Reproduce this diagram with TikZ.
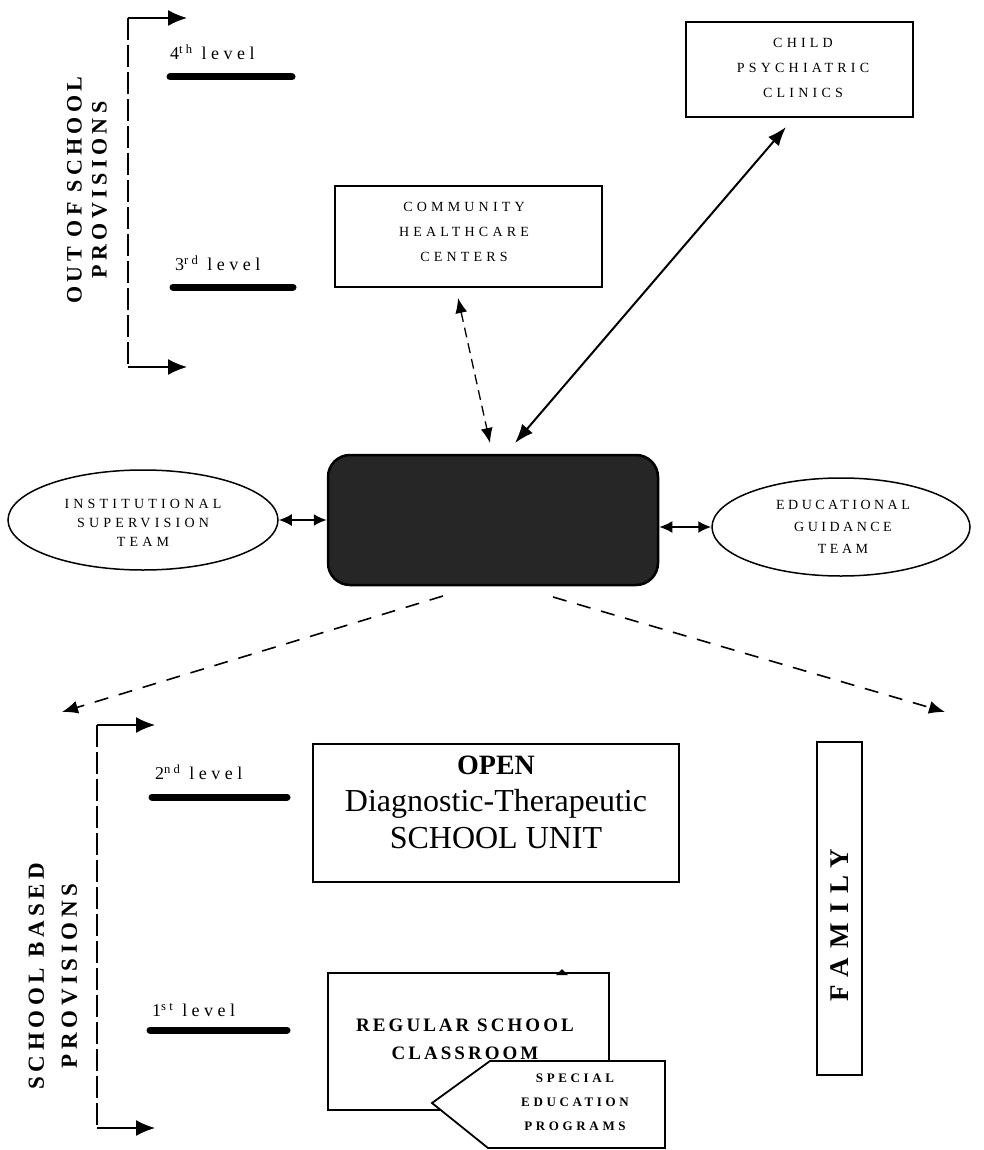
\documentclass[tikz,border=0pt]{standalone}
\usepackage{fontspec}
\setmainfont{Liberation Serif}
\usetikzlibrary{arrows.meta,shapes.geometric}
\tikzset{
  box/.style={draw, line width=1.5pt, inner sep=0pt},
  lbl/.style={align=center, inner sep=0pt, font=\fontsize{14}{25}\selectfont\addfontfeature{LetterSpace=30}},
  elbl/.style={align=center, inner sep=0pt, font=\fontsize{14}{19}\selectfont\addfontfeature{LetterSpace=30}},
  vtitle/.style={rotate=90, align=center, inner sep=0pt, font=\bfseries\fontsize{22}{25}\selectfont\addfontfeature{LetterSpace=20}},
  lvl/.style={anchor=west, inner sep=0pt, font=\fontsize{18}{20}\selectfont\addfontfeature{LetterSpace=25}},
  bar/.style={line width=7pt, line cap=round},
  brk/.style={line width=1.3pt, dash pattern=on 22pt off 5pt},
  tip/.style={-{Latex[length=19pt,width=16pt]}, line width=1.6pt},
  dbl/.style={{Latex[length=13pt,width=12pt]}-{Latex[length=13pt,width=12pt]}, line width=2pt},
  dashtip/.style={dash pattern=on 14pt off 11pt, line width=1.6pt, -{Latex[length=16pt,width=13pt]}},
}
\begin{document}
\begin{tikzpicture}[x=1pt,y=-1pt]
\useasboundingbox (0,0) rectangle (984,1150);

% ---------- OUT OF SCHOOL bracket ----------
\coordinate (b1t) at (128,18);  \coordinate (b1ta) at (187,18);
\coordinate (b1b) at (128,367); \coordinate (b1ba) at (187,367);
\draw[brk] (b1t) -- (b1b);
\draw[tip] (b1t) -- (b1ta);
\draw[tip] (b1b) -- (b1ba);
\node[vtitle] (oos) at (87,190) {OUT OF SCHOOL\\PROVISIONS};

\node[lvl] (l4) at (170,52) {4\textsuperscript{th} level};
\draw[bar] (170,77) -- (292,77);
\node[lvl] (l3) at (175,263) {3\textsuperscript{rd} level};
\draw[bar] (173,287) -- (293,287);

% ---------- top boxes ----------
\node[box, minimum width=227pt, minimum height=95pt] (clin) at (799.5,69.5) {};
\node[lbl] (clint) at (803,68) {CHILD\\PSYCHIATRIC\\CLINICS};
\node[box, minimum width=267pt, minimum height=101pt] (comm) at (468.5,236.5) {};
\node[lbl] (commt) at (464,232) {COMMUNITY\\HEALTHCARE\\CENTERS};

% ---------- centre ----------
\node[draw, line width=2.5pt, rounded corners=22pt, fill=black!85,
      minimum width=330pt, minimum height=130pt] (cbox) at (493,520) {};

\node[draw, line width=1.5pt, ellipse, inner sep=0pt,
      minimum width=270pt, minimum height=100pt] (lell) at (143,520) {};
\node[elbl] (lellt) at (143,523) {INSTITUTIONAL\\SUPERVISION\\TEAM};
\node[draw, line width=1.5pt, ellipse, inner sep=0pt,
      minimum width=258pt, minimum height=98pt] (rell) at (841,527) {};
\node[elbl, font=\fontsize{14}{22}\selectfont\addfontfeature{LetterSpace=25}] (rellt) at (843,527) {EDUCATIONAL\\GUIDANCE\\TEAM};

\draw[dbl] (lell.east) -- (cbox.west);
\draw[dbl] (cbox.east |- rell.west) -- (rell.west);

\coordinate (ca) at (458,298); \coordinate (cb) at (490,443);
\draw[dash pattern=on 10pt off 6pt, line width=1.3pt,
      {Latex[length=15pt,width=12pt]}-{Latex[length=15pt,width=12pt]}] (ca) -- (cb);
\coordinate (pa) at (786,127); \coordinate (pb) at (515,443);
\draw[line width=2pt, {Latex[length=19pt,width=14pt]}-{Latex[length=19pt,width=14pt]}] (pa) -- (pb);

\coordinate (dl0) at (443,596); \coordinate (dl1) at (62,712);
\coordinate (dr0) at (553,597); \coordinate (dr1) at (945,712);
\draw[dashtip] (dl0) -- (dl1);
\draw[dashtip] (dr0) -- (dr1);

% ---------- SCHOOL BASED bracket ----------
\coordinate (b2t) at (97,725);  \coordinate (b2ta) at (155,725);
\coordinate (b2b) at (97,1128); \coordinate (b2ba) at (155,1128);
\draw[brk] (b2t) -- (b2b);
\draw[tip] (b2t) -- (b2ta);
\draw[tip] (b2b) -- (b2ba);
\node[vtitle, font=\bfseries\fontsize{23}{33}\selectfont\addfontfeature{LetterSpace=20}] (sbp) at (53,976) {SCHOOL BASED\\PROVISIONS};

\node[lvl] (l2) at (155,772) {2\textsuperscript{nd} level};
\draw[bar] (152,797) -- (287,797);
\node[lvl] (l1) at (152,1010) {1\textsuperscript{st} level};
\draw[bar] (150,1030) -- (287,1030);

% ---------- OPEN unit ----------
\node[box, minimum width=366pt, minimum height=138pt] (open) at (496,813) {};
\node[align=center, inner sep=0pt, font=\fontsize{32}{37}\selectfont] (opent) at (496,802)
  {{\bfseries\fontsize{28}{37}\selectfont OPEN}\\Diagnostic-Therapeutic\\SCHOOL UNIT};

% ---------- regular classroom + special education ----------
\node[box, minimum width=281pt, minimum height=137pt] (reg) at (468.5,1041.5) {};
\fill (556,975) -- (562,969) -- (568,975) -- cycle;
\node[align=center, inner sep=0pt, font=\bfseries\fontsize{19}{28}\selectfont\addfontfeature{LetterSpace=16}] (regt) at (465,1039) {REGULAR SCHOOL\\CLASSROOM};
\draw[line width=1.8pt, fill=white] (432,1103) -- (490,1061) -- (665,1061) -- (665,1148) -- (488,1148) -- cycle;
\node[align=center, inner sep=0pt, font=\bfseries\fontsize{13}{24}\selectfont\addfontfeature{LetterSpace=28}] (spec) at (575,1102) {SPECIAL\\EDUCATION\\PROGRAMS};

% ---------- family ----------
\node[box, minimum width=45pt, minimum height=333pt] (fam) at (839.5,908.5) {};
\node[rotate=90, inner sep=0pt, font=\bfseries\fontsize{27}{30}\selectfont\addfontfeature{LetterSpace=35}] (famt) at (840,925) {FAMILY};
\end{tikzpicture}
\end{document}
